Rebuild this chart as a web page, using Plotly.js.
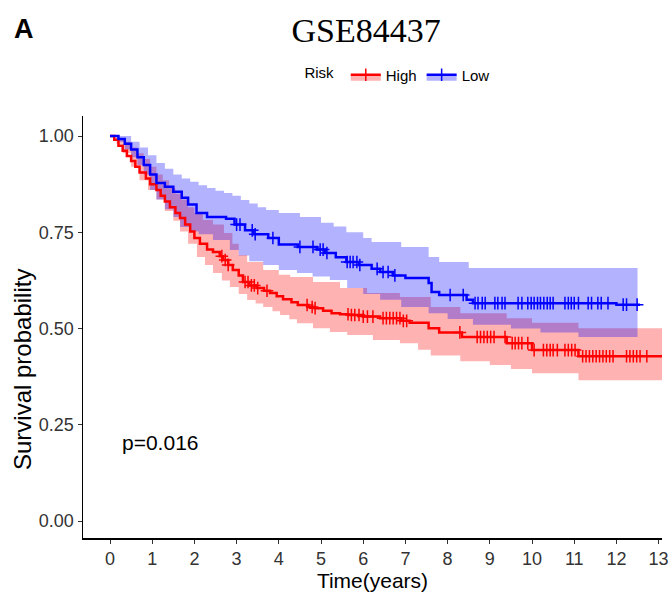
<!DOCTYPE html>
<html>
<head>
<meta charset="utf-8">
<script src="https://cdn.plot.ly/plotly-3.0.1.min.js"></script>
<style>html,body{margin:0;padding:0;background:#fff;}#chart{width:672px;height:593px;}</style>
</head>
<body>
<div id="chart"></div>
<script>
// ---- Data (Kaplan-Meier, GSE84437) ----
const groups = ["High", "Low"];

// High risk: survival step curve
const highTime = [0, 0.1, 0.2, 0.3, 0.4, 0.5, 0.6, 0.7, 0.85, 0.95, 1.1, 1.2, 1.3, 1.42, 1.55, 1.66, 1.78, 1.9, 2.0, 2.13, 2.3, 2.44, 2.6, 2.68, 2.8, 2.91, 3.05, 3.15, 3.3, 3.48, 3.65, 3.79, 3.95, 4.1, 4.3, 4.45, 4.7, 4.85, 5.05, 5.25, 5.45, 5.65, 6.0, 6.4, 6.9, 7.1, 7.55, 7.8, 8.34, 9.4, 10.0, 11.1, 13.1];
const highSurv = [1.0, 0.99, 0.975, 0.962, 0.948, 0.935, 0.92, 0.905, 0.89, 0.875, 0.86, 0.845, 0.83, 0.815, 0.8, 0.787, 0.77, 0.752, 0.735, 0.72, 0.705, 0.699, 0.688, 0.678, 0.665, 0.652, 0.638, 0.621, 0.612, 0.605, 0.598, 0.592, 0.584, 0.576, 0.568, 0.561, 0.556, 0.553, 0.546, 0.54, 0.537, 0.535, 0.531, 0.527, 0.52, 0.515, 0.501, 0.49, 0.478, 0.462, 0.444, 0.428, 0.428];
const highUpperTime = [0, 0.2, 0.35, 0.5, 0.65, 0.8, 0.95, 1.1, 1.25, 1.4, 1.55, 1.7, 1.85, 2.0, 2.2, 2.44, 2.7, 2.9, 3.05, 3.25, 3.63, 4.0, 4.27, 4.81, 5.45, 6.09, 6.87, 7.6, 8.3, 9.4, 10.0, 11.1, 13.1];
const highUpper = [1.0, 0.995, 0.985, 0.97, 0.955, 0.94, 0.92, 0.9, 0.885, 0.865, 0.85, 0.835, 0.815, 0.8, 0.782, 0.77, 0.748, 0.72, 0.691, 0.673, 0.652, 0.64, 0.634, 0.621, 0.605, 0.592, 0.582, 0.556, 0.54, 0.527, 0.515, 0.501, 0.501];
const highLowerTime = [0, 0.15, 0.3, 0.5, 0.7, 0.9, 1.1, 1.3, 1.5, 1.66, 1.85, 2.06, 2.25, 2.44, 2.65, 2.84, 3.05, 3.25, 3.45, 3.63, 3.85, 4.03, 4.25, 4.43, 4.81, 5.21, 5.62, 6.23, 6.87, 7.3, 7.6, 8.3, 9.0, 9.5, 10.0, 11.1, 13.1];
const highLower = [1.0, 0.98, 0.955, 0.92, 0.885, 0.86, 0.835, 0.805, 0.78, 0.752, 0.72, 0.686, 0.665, 0.644, 0.625, 0.608, 0.59, 0.574, 0.565, 0.556, 0.545, 0.535, 0.524, 0.514, 0.501, 0.491, 0.483, 0.47, 0.462, 0.445, 0.43, 0.415, 0.405, 0.395, 0.384, 0.366, 0.366];
const highCensor = [2.65, 2.73, 2.8, 3.2, 3.27, 3.35, 3.42, 3.5, 3.72, 4.67, 4.79, 4.86, 5.64, 5.72, 5.8, 5.9, 6.0, 6.1, 6.23, 6.47, 6.55, 6.63, 6.71, 6.79, 6.87, 6.95, 7.03, 8.29, 8.7, 8.78, 8.86, 8.94, 9.02, 9.1, 9.36, 9.53, 9.6, 9.68, 9.76, 9.9, 10.05, 10.27, 10.35, 10.43, 10.5, 10.6, 10.78, 10.86, 10.94, 11.02, 11.2, 11.28, 11.36, 11.44, 11.52, 11.6, 11.68, 11.76, 11.84, 11.92, 12.24, 12.32, 12.4, 12.48, 12.56, 12.72];

// Low risk: survival step curve
const lowTime = [0, 0.2, 0.35, 0.5, 0.65, 0.8, 0.95, 1.1, 1.3, 1.5, 1.7, 1.85, 2.05, 2.3, 2.75, 2.95, 3.2, 3.4, 3.75, 4.0, 4.45, 4.9, 5.1, 5.35, 5.6, 5.9, 6.2, 6.4, 6.7, 7.0, 7.55, 7.62, 7.8, 8.45, 8.6, 12.0, 12.56];
const lowSurv = [1.0, 0.992, 0.98, 0.965, 0.945, 0.925, 0.9, 0.878, 0.868, 0.855, 0.84, 0.822, 0.8, 0.79, 0.785, 0.77, 0.755, 0.745, 0.735, 0.718, 0.712, 0.705, 0.696, 0.685, 0.673, 0.665, 0.655, 0.647, 0.638, 0.631, 0.618, 0.595, 0.587, 0.575, 0.566, 0.562, 0.562];
const lowUpperTime = [0, 0.3, 0.5, 0.7, 0.9, 1.1, 1.3, 1.5, 1.7, 1.9, 2.1, 2.3, 2.5, 2.7, 2.9, 3.1, 3.3, 3.5, 3.7, 4.0, 4.5, 5.0, 5.3, 5.6, 6.0, 6.2, 6.9, 7.55, 7.8, 8.5, 12.5];
const lowUpper = [1.0, 1.0, 0.985, 0.97, 0.95, 0.93, 0.915, 0.9, 0.89, 0.881, 0.872, 0.865, 0.858, 0.852, 0.845, 0.834, 0.825, 0.815, 0.808, 0.8, 0.79, 0.775, 0.765, 0.75, 0.735, 0.725, 0.712, 0.686, 0.673, 0.657, 0.657];
const lowLowerTime = [0, 0.2, 0.35, 0.5, 0.65, 0.8, 0.95, 1.1, 1.3, 1.5, 1.66, 1.9, 2.1, 2.44, 2.84, 3.05, 3.3, 3.63, 4.0, 4.43, 4.8, 5.21, 5.62, 6.0, 6.4, 6.9, 7.55, 8.0, 8.6, 9.5, 10.2, 11.1, 12.5];
const lowLower = [1.0, 0.985, 0.965, 0.945, 0.925, 0.9, 0.86, 0.835, 0.81, 0.79, 0.764, 0.752, 0.745, 0.73, 0.704, 0.69, 0.675, 0.665, 0.652, 0.644, 0.635, 0.626, 0.605, 0.59, 0.575, 0.556, 0.54, 0.525, 0.51, 0.5, 0.49, 0.478, 0.478];
const lowCensor = [3.0, 3.08, 3.37, 3.44, 3.86, 4.5, 4.81, 4.98, 5.05, 5.14, 5.62, 5.69, 5.76, 5.85, 5.92, 6.33, 6.47, 6.59, 6.75, 8.06, 8.37, 8.65, 8.72, 8.82, 8.89, 9.12, 9.19, 9.29, 9.36, 9.67, 9.76, 9.9, 9.98, 10.05, 10.13, 10.2, 10.28, 10.36, 10.43, 10.5, 10.78, 10.86, 10.93, 11.0, 11.1, 11.33, 11.41, 11.56, 11.64, 11.8, 12.16, 12.24, 12.49];

const xTicks = [0,1,2,3,4,5,6,7,8,9,10,11,12,13];
const yTicks = [0, 0.25, 0.5, 0.75, 1.0];
const yTickText = ["0.00", "0.25", "0.50", "0.75", "1.00"];
const pText = "p=0.016";
const xTitle = "Time(years)";
const yTitle = "Survival probability";

// ---- helpers ----
function stepAt(times, vals, t) {
  let v = vals[0];
  for (let i = 0; i < times.length; i++) { if (times[i] <= t) v = vals[i]; else break; }
  return v;
}

const RED = "#FF0000", BLUE = "#0000FF";
const PINK = "rgba(255,0,0,0.3)", LBLUE = "rgba(0,0,255,0.3)";
const SANS = "Liberation Sans, Arial, sans-serif";

function band(tu, u, tl, l, fill) {
  return [
    {x: tu, y: u, mode: "lines", line: {width: 0, shape: "hv", color: fill}, showlegend: false, hoverinfo: "skip"},
    {x: tl, y: l, mode: "lines", line: {width: 0, shape: "hv", color: fill}, fill: "tonexty", fillcolor: fill, showlegend: false, hoverinfo: "skip"}
  ];
}
function curve(t, s, color) {
  return {x: t, y: s, mode: "lines", line: {color: color, width: 2.5, shape: "hv"}, showlegend: false, hoverinfo: "skip"};
}
function censor(ct, t, s, color) {
  return {x: ct, y: ct.map(c => stepAt(t, s, c)), mode: "markers",
    marker: {symbol: "cross-thin", size: 9, line: {color: color, width: 1.5}, color: color},
    showlegend: false, hoverinfo: "skip"};
}
function legendItem(name, color, fill) {
  return {x: [null], y: [null], name: name, mode: "lines+markers", fill: "toself", fillcolor: fill,
    line: {color: color, width: 2.5},
    marker: {symbol: "cross-thin", size: 9, line: {color: color, width: 1.5}, color: color}};
}

const data = [
  ...band(highUpperTime, highUpper, highLowerTime, highLower, PINK),
  ...band(lowUpperTime, lowUpper, lowLowerTime, lowLower, LBLUE),
  curve(highTime, highSurv, RED),
  curve(lowTime, lowSurv, BLUE),
  censor(highCensor, highTime, highSurv, RED),
  censor(lowCensor, lowTime, lowSurv, BLUE),
  legendItem(groups[0], RED, PINK),
  legendItem(groups[1], BLUE, LBLUE)
];

const tickFont = {family: SANS, size: 18, color: "#333333"};
const layout = {
  width: 672, height: 593,
  margin: {l: 83, r: 10, t: 116, b: 55},
  paper_bgcolor: "#ffffff", plot_bgcolor: "#ffffff",
  font: {family: SANS, color: "#000"},
  title: {text: "GSE84437", font: {family: "Liberation Serif, Times New Roman, serif", size: 34, color: "#000"},
    x: 0.489, xanchor: "center", xref: "paper", y: 1 - 30/593, yanchor: "middle", yref: "container"},
  xaxis: {range: [-0.64, 13.08], tickvals: xTicks, ticktext: xTicks.map(String), showgrid: false, zeroline: false,
    showline: true, linecolor: "#000", linewidth: 1.5, ticks: "outside", ticklen: 4, tickcolor: "#333", tickwidth: 1,
    tickfont: tickFont,
    title: {text: xTitle, font: {family: SANS, size: 21, color: "#000"}, standoff: 3}},
  yaxis: {range: [-0.044, 1.052], tickvals: yTicks, ticktext: yTickText, showgrid: false, zeroline: false,
    showline: true, linecolor: "#000", linewidth: 1.5, ticks: "outside", ticklen: 4, tickcolor: "#333", tickwidth: 1,
    tickfont: tickFont},
  showlegend: true,
  legend: {orientation: "h", traceorder: "normal", x: 0.379, xanchor: "left", y: 1 + (538 - 75) / 422 - 1, yanchor: "middle",
    title: {text: "Risk ", font: {family: SANS, size: 15, color: "#000"}, side: "left"},
    font: {family: SANS, size: 15, color: "#000"}, itemwidth: 30, tracegroupgap: 0, bgcolor: "rgba(0,0,0,0)"},
  annotations: [
    {text: "<b>A</b>", xref: "paper", yref: "paper", x: (12 - 83) / 579, y: (538 - 29) / 422, xanchor: "left", yanchor: "middle",
      showarrow: false, font: {family: SANS, size: 27, color: "#000"}},
    {text: yTitle, xref: "paper", yref: "paper", x: (22 - 83) / 579, y: (538 - 370) / 422, xanchor: "center", yanchor: "middle",
      textangle: -90, showarrow: false, font: {family: SANS, size: 24, color: "#000"}},
    {text: pText, xref: "x", yref: "y", x: 0.24, y: 0.205, xanchor: "left", yanchor: "middle",
      showarrow: false, font: {family: SANS, size: 21, color: "#000"}}
  ]
};

Plotly.newPlot("chart", data, layout, {displayModeBar: false, staticPlot: true});
</script>
</body>
</html>
